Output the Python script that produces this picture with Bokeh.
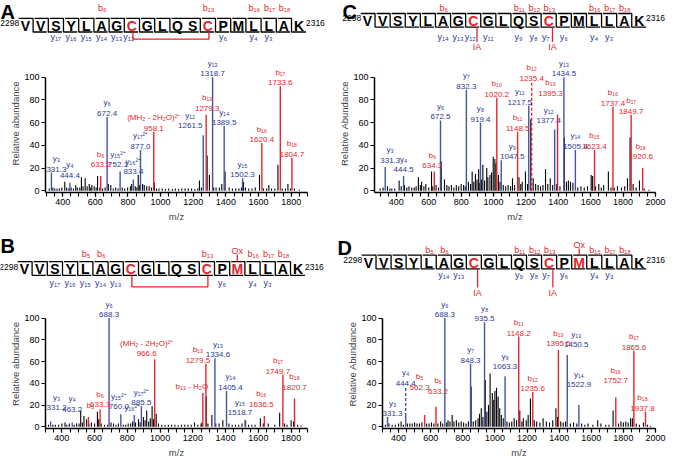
from bokeh.plotting import figure
from bokeh.models import Range1d, FixedTicker, ColumnDataSource
from bokeh.layouts import row, column
from bokeh.embed import file_html
from bokeh.resources import INLINE
from bokeh.core.properties import value

RED = "#e3262d"
NAVY = "#2b3990"
BLUE = "#4454a4"
FONT = "Liberation Sans"

SEQ = list("VVSYLAGCGLQSCPMLLAK")
SEQ_START, SEQ_END = 2298, 2316
SUB = str.maketrans("0123456789", "₀₁₂₃₄₅₆₇₈₉")

# ---------------- Panel A ----------------
A_seq_b = [6, 13, 16, 17, 18]
A_seq_y = [17, 16, 15, 14, 13, 12, 6, 4, 3]
A_ion_name = ["y₃", "y₄", "b₆", "y₆", "y₁₅²⁺", "y₁₆²⁺", "y₁₇²⁺", "(MH₂ - 2H₂O)²⁺",
              "y₁₂", "b₁₃", "y₁₃", "y₁₄", "y₁₅", "b₁₆", "b₁₇", "b₁₈"]
A_ion_mz = [331.3, 444.4, 633.2, 672.4, 752.1, 833.4, 877.0, 958.1,
            1261.5, 1279.3, 1318.7, 1389.5, 1502.3, 1620.4, 1733.6, 1804.7]
A_ion_int = [16, 7, 13, 65, 17, 10, 36, 52, 49, 67, 100, 57, 11, 42, 92, 29]
A_ion_type = ["y", "y", "b", "y", "y", "y", "y", "b", "y", "b", "y", "y", "y", "b", "b", "b"]
A_bg = [(318, 2), (340, 3), (352, 2), (366, 2), (380, 2), (395, 3), (413, 8), (425, 3), (438, 2),
        (452, 3), (466, 2), (480, 5), (490, 3), (505, 3), (515, 12), (525, 4), (538, 11), (550, 4),
        (563, 6), (572, 3), (579, 5), (593, 4), (605, 3), (614, 13), (628, 3), (645, 2), (660, 3),
        (680, 6), (695, 5), (710, 2), (725, 3), (740, 2), (765, 3), (780, 2), (798, 3), (815, 4),
        (823, 6), (845, 4), (855, 3), (863, 14), (872, 5), (890, 6), (900, 5), (915, 4), (930, 4),
        (945, 3), (962, 7), (975, 2), (990, 2), (1010, 2), (1030, 1.5), (1050, 2), (1072, 1.5),
        (1090, 2), (1110, 1.5), (1130, 2), (1150, 2), (1170, 2), (1190, 2), (1210, 1.5), (1228, 2),
        (1238, 9), (1250, 3), (1285, 31), (1299, 14), (1325, 3), (1340, 3), (1360, 3), (1375, 6),
        (1395, 17), (1420, 3), (1440, 2), (1460, 2), (1480, 2), (1495, 3), (1508, 8), (1520, 3),
        (1540, 2), (1560, 2), (1580, 3), (1606, 14), (1630, 2), (1650, 2), (1663, 5), (1680, 2),
        (1700, 2), (1719, 23), (1745, 2), (1765, 2), (1780, 6), (1795, 2), (1820, 2), (1850, 1)]

# ---------------- Panel B ----------------
B_seq_b = [5, 6, 13, 16, 17, 18]
B_seq_y = [17, 16, 15, 14, 13, 6, 4, 3]
B_ion_name = ["y₃", "y₄", "b₅", "b₆", "y₆", "y₁₅²⁺", "y₁₆²⁺", "y₁₇²⁺", "(MH₂ - 2H₂O)²⁺",
              "b₁₃ - H₂O", "b₁₃", "y₁₃", "y₁₄", "y₁₅", "b₁₆", "b₁₇", "b₁₈"]
B_ion_mz = [331.2, 463.2, 562.3, 633.3, 688.3, 760.0, 842.0, 885.5, 966.6,
            1261.0, 1279.5, 1334.6, 1405.4, 1518.7, 1636.5, 1749.7, 1820.7]
B_ion_int = [5, 4, 9, 16, 100, 11.5, 11, 19, 62, 31, 58, 63, 33, 6, 10, 48, 26]
B_ion_type = ["y", "y", "b", "b", "y", "y", "y", "y", "b", "b", "b", "y", "y", "y", "b", "b", "b"]
B_ion_nomz = ["b₅", "y₁₆²⁺", "b₁₃ - H₂O"]
B_bg = [(318, 2), (345, 2), (360, 2), (380, 2), (400, 3), (419, 4), (430, 2), (445, 3), (475, 2),
        (490, 3), (505, 3), (515, 15), (525, 4), (535, 10), (551, 7), (565, 3), (580, 4), (600, 3),
        (617, 14), (625, 7), (640, 3), (660, 2), (680, 2), (700, 4), (715, 3), (730, 2), (745, 3),
        (775, 2), (790, 2), (805, 3), (820, 3), (832, 5), (850, 4), (868, 7), (878, 4), (898, 9),
        (908, 6), (918, 15), (930, 5), (940, 8), (951, 19), (960, 7), (976, 12), (990, 3),
        (1010, 2), (1030, 2), (1050, 2), (1070, 2), (1090, 2), (1110, 1.5), (1130, 2), (1150, 2),
        (1170, 2), (1190, 2), (1210, 4), (1230, 2), (1250, 3), (1256, 4), (1282, 28), (1292, 3),
        (1316, 11), (1340, 3), (1360, 3), (1383, 6), (1420, 3), (1440, 2), (1460, 2), (1480, 2),
        (1500, 3), (1522, 6), (1540, 2), (1560, 2), (1580, 2), (1612, 8), (1630, 3), (1660, 3),
        (1700, 2), (1730, 13), (1760, 3), (1775, 2), (1800, 6), (1815, 5), (1840, 2), (1860, 1)]

# ---------------- Panel C ----------------
C_seq_b = [6, 11, 12, 13, 16, 17, 18]
C_seq_y = [14, 13, 12, 11, 9, 8, 7, 6, 4, 3]
C_ion_name = ["y₃", "y₄", "b₆", "y₆", "y₇", "y₈", "b₁₀", "y₉", "b₁₁", "y₁₁", "b₁₂",
              "y₁₂", "b₁₃", "y₁₃", "y₁₄", "b₁₅", "b₁₆", "b₁₇", "b₁₈"]
C_ion_mz = [331.3, 444.5, 634.3, 672.5, 832.3, 919.4, 1020.2, 1047.5, 1148.5, 1217.5, 1235.4,
            1377.4, 1395.3, 1434.5, 1505.4, 1623.4, 1737.4, 1849.7, 1920.6]
C_ion_int = [21, 13, 17, 62, 89, 60, 82, 27, 52, 75, 0, 54, 67, 100, 36, 36, 74, 67, 20]
C_ion_type = ["y", "y", "b", "y", "y", "y", "b", "y", "b", "y", "b", "y", "b", "y", "y", "b", "b", "b", "b"]
C_ion_dashed = {"b₁₂": 96}
C_bg = [(300, 2), (318, 3), (345, 4), (360, 2), (372, 2), (390, 2), (417, 9), (430, 4), (450, 5),
        (465, 3), (478, 4), (495, 3), (510, 3), (522, 4), (536, 12), (548, 5), (556, 8), (570, 4),
        (582, 6), (600, 3), (617, 17), (625, 4), (645, 5), (660, 3), (677, 26), (697, 10), (712, 5),
        (725, 4), (740, 5), (755, 3), (770, 5), (785, 4), (800, 6), (815, 5), (825, 4), (845, 8),
        (858, 6), (868, 17), (878, 8), (888, 15), (898, 10), (908, 19), (915, 7), (925, 10),
        (934, 23), (945, 9), (958, 20), (965, 12), (978, 14), (988, 16), (998, 30), (1008, 28),
        (1015, 24), (1030, 14), (1040, 8), (1060, 5), (1075, 4), (1090, 5), (1105, 4), (1117, 11),
        (1130, 5), (1157, 12), (1168, 6), (1177, 8), (1197, 17), (1210, 6), (1230, 63), (1245, 11),
        (1260, 6), (1275, 5), (1290, 4), (1305, 5), (1321, 19), (1335, 6), (1350, 11), (1365, 5),
        (1390, 6), (1410, 4), (1437, 47), (1450, 8), (1462, 9), (1475, 8), (1490, 7), (1520, 3),
        (1540, 4), (1560, 3), (1580, 4), (1603, 14), (1612, 13), (1630, 4), (1650, 6), (1665, 3),
        (1680, 5), (1709, 17), (1725, 3), (1745, 3), (1765, 4), (1790, 3), (1810, 4), (1827, 11),
        (1843, 47), (1862, 6), (1880, 3), (1901, 9), (1930, 2), (1960, 1)]

# ---------------- Panel D ----------------
D_seq_b = [5, 6, 11, 12, 13, 16, 17, 18]
D_seq_y = [14, 13, 9, 8, 7, 6, 4, 3]
D_ion_name = ["y₃", "y₄", "b₅", "b₆", "y₆", "y₇", "y₈", "y₉", "b₁₁", "b₁₂", "b₁₃", "y₁₃",
              "y₁₄", "b₁₆", "b₁₇", "b₁₈"]
D_ion_mz = [331.3, 444.4, 562.3, 633.2, 688.3, 848.3, 935.5, 1063.3, 1148.2, 1235.6, 1395.5,
            1450.5, 1522.9, 1752.7, 1865.6, 1937.8]
D_ion_int = [9, 10, 11, 18.5, 100, 58, 96, 46.5, 83, 32, 70.6, 66, 20, 27, 70, 14]
D_ion_type = ["y", "y", "b", "b", "y", "y", "y", "y", "b", "b", "b", "y", "y", "b", "b", "b"]
D_ion_dashed = {"y₄": 37}
D_bg = [(318, 2), (340, 3), (360, 2), (380, 2), (400, 3), (416, 5), (430, 2), (455, 3), (470, 3),
        (485, 3), (500, 4), (515, 3), (530, 3), (545, 4), (575, 3), (590, 3), (605, 4), (620, 3),
        (645, 3), (662, 5), (675, 3), (700, 4), (708, 6), (720, 5), (734, 11), (745, 5), (760, 6),
        (775, 4), (790, 5), (805, 4), (820, 3), (835, 5), (852, 37), (865, 5), (880, 6), (895, 8),
        (904, 12), (915, 17), (925, 9), (940, 43), (950, 14), (960, 20), (970, 49), (984, 31),
        (993, 25), (1000, 33), (1010, 36), (1020, 28), (1030, 17), (1040, 11), (1052, 8), (1075, 5),
        (1090, 4), (1105, 5), (1120, 8), (1135, 6), (1155, 15), (1168, 5), (1177, 8), (1195, 6),
        (1207, 11), (1221, 26), (1245, 6), (1260, 5), (1280, 4), (1300, 8), (1320, 5), (1340, 4),
        (1360, 6), (1380, 17), (1390, 9), (1410, 5), (1425, 4), (1440, 5), (1470, 3), (1490, 4),
        (1510, 3), (1540, 3), (1560, 2), (1580, 3), (1610, 2), (1640, 6), (1660, 3), (1690, 2),
        (1710, 2), (1736, 15), (1770, 3), (1785, 5), (1800, 4), (1815, 5), (1830, 4), (1845, 8),
        (1856, 8), (1880, 3), (1900, 2), (1925, 4), (1950, 2), (1970, 1)]

# label nudges (screen px): (dx, extra lift)
A_lbl_off = {"y₃": (5, 0), "y₄": (0, 4), "b₆": (0, 8), "y₁₅²⁺": (-2, 3), "y₁₆²⁺": (0, 4),
             "y₁₂": (-13, 6), "b₁₃": (1, 3)}
B_lbl_off = {"y₃": (6, 10), "y₄": (0, 10), "b₅": (2, 6), "b₆": (0, 1), "y₁₅²⁺": (-2, 4),
             "y₁₆²⁺": (-2, 2), "(MH₂ - 2H₂O)²⁺": (-8, 2), "b₁₃ - H₂O": (-11, 1), "b₁₃": (-8, 0),
             "y₁₃": (3, 0), "y₁₄": (4, 0), "y₁₅": (-5, 4), "b₁₆": (-3, 8), "b₁₇": (-5, 0), "b₁₈": (0, 8)}
C_lbl_off = {"y₃": (5, 3), "y₄": (0, 3), "b₆": (-2, 2), "y₉": (11, 0), "y₁₁": (-9, 0),
             "y₁₂": (-6, 5), "b₁₃": (-7, 18), "b₁₈": (-2, 8)}
D_lbl_off = {"y₃": (5, 0), "b₅": (-5, 24), "b₆": (2, 12), "y₉": (0, 6), "b₁₃": (0, 3),
             "y₁₃": (9, 7), "y₁₄": (0, 17), "b₁₆": (0, 13), "b₁₈": (-3, 0)}


def make_header(w, h, letter, lpos, x0, s, row_y, b_y, y_y, b_list, y_list, red_res, skip,
                dis_y=None, ia_y=None, ox_y=None):
    p = figure(width=w, height=h, x_range=Range1d(0, w), y_range=Range1d(h, 0),
               output_backend="svg", toolbar_location=None, x_axis_type=None, y_axis_type=None,
               min_border=0, frame_align=False)
    p.outline_line_color = None
    p.grid.visible = False
    p.text(x=[lpos[0]], y=[lpos[1]], text=[letter], text_font=value(FONT), text_font_style="bold",
           text_font_size=value("20px"), text_baseline="top", text_align="left", text_color="black")
    n = len(SEQ)
    cx = [x0 + i * s for i in range(n)]
    half = 6.8
    top, bot = row_y - half, row_y + half
    J = [j for j in range(n - 1) if j not in skip]
    gap = 0.1 * s
    xs, ys = [], []
    for k, j in enumerate(J):
        xj = cx[j] + s / 2
        left = cx[J[k - 1]] + s / 2 + gap if k > 0 else cx[0] - 0.45 * s
        right = cx[J[k + 1]] + s / 2 - gap if k < len(J) - 1 else cx[-1] + 0.45 * s
        xs.append([left, xj, xj, right])
        ys.append([top, top, bot, bot])
    p.multi_line(xs, ys, line_color="black", line_width=1.3)
    colors = [RED if i in red_res else "black" for i in range(n)]
    p.text(x=cx, y=[row_y + 0.5] * n, text=SEQ, text_color=colors, text_font=value(FONT),
           text_font_style="bold", text_font_size=value("14px"), text_align="center",
           text_baseline="middle")
    p.text(x=[cx[0] - 0.42 * s], y=[row_y - 2], text=[str(SEQ_START)], text_font=value(FONT),
           text_font_size=value("8.5px"), text_align="right", text_baseline="middle")
    p.text(x=[cx[-1] + 0.45 * s], y=[row_y - 2], text=[str(SEQ_END)], text_font=value(FONT),
           text_font_size=value("8.5px"), text_align="left", text_baseline="middle")
    p.text(x=[cx[k - 1] + 0.05 * s for k in b_list], y=[b_y] * len(b_list),
           text=["b" + str(k).translate(SUB) for k in b_list], text_color=RED, text_font=value(FONT),
           text_font_size=value("9px"), text_align="center", text_baseline="middle")
    shift_c = dis_y is not None or ia_y is not None
    yx = [cx[n - k] - (0.2 * s if (SEQ[n - k] == "C" and shift_c) else 0) for k in y_list]
    p.text(x=yx, y=[y_y] * len(y_list), text=["y" + str(k).translate(SUB) for k in y_list],
           text_color=NAVY, text_font=value(FONT), text_font_size=value("9px"),
           text_align="center", text_baseline="middle")
    if dis_y is not None:
        a, b = cx[7] + 1, cx[12] + 1
        p.line(x=[a, a, b, b], y=[bot + 0.5, dis_y, dis_y, bot + 0.5], line_color=RED, line_width=1.3)
    if ia_y is not None:
        for c in (7, 12):
            xx = cx[c] + 0.25 * s
            p.segment(x0=[xx], y0=[bot], x1=[xx], y1=[ia_y - 5], line_color=RED, line_width=1.3)
            p.text(x=[xx], y=[ia_y], text=["IA"], text_color=RED, text_font=value(FONT),
                   text_font_size=value("9px"), text_align="center", text_baseline="middle")
    if ox_y is not None:
        p.segment(x0=[cx[14]], y0=[top], x1=[cx[14]], y1=[ox_y + 4], line_color=RED, line_width=1.3)
        p.text(x=[cx[14]], y=[ox_y], text=["Ox"], text_color=RED, text_font=value(FONT),
               text_font_size=value("9px"), text_align="center", text_baseline="middle")
    return p


def make_spectrum(w, h, xr, yend, borders, bg, names, mzs, ints, types, offs, ylabel, major,
                  nomz=(), dashed=None):
    dashed = dashed or {}
    p = figure(width=w, height=h, x_range=Range1d(*xr), y_range=Range1d(-1.5, yend),
               output_backend="svg", toolbar_location=None, frame_align=False,
               min_border_left=borders[0], min_border_right=borders[1],
               min_border_top=borders[2], min_border_bottom=borders[3])
    p.outline_line_color = None
    p.grid.visible = False
    bgx = [m for m, _ in bg]
    bgy = [v for _, v in bg]
    p.segment(x0=bgx, y0=[0] * len(bgx), x1=bgx, y1=bgy, line_color="black", line_width=1.1)
    lc = [RED if t == "b" else BLUE for t in types]
    tc = [RED if t == "b" else NAVY for t in types]
    p.segment(x0=mzs, y0=[0] * len(mzs), x1=mzs, y1=ints, line_color=lc, line_width=1.4)
    for nm, topv in dashed.items():
        i = names.index(nm)
        p.segment(x0=[mzs[i]], y0=[ints[i]], x1=[mzs[i]], y1=[topv], line_color=lc[i],
                  line_width=1.4, line_dash="3 2")
    tops = [dashed.get(nm, v) for nm, v in zip(names, ints)]
    mzt = ["" if nm in nomz else f"{m:.1f}" for nm, m in zip(names, mzs)]
    dx = [offs.get(nm, (0, 0))[0] for nm in names]
    dym = [-(1 + offs.get(nm, (0, 0))[1]) for nm in names]
    dyn = [dym[i] - (0 if names[i] in nomz else 8.5) for i in range(len(names))]
    src = ColumnDataSource(dict(x=mzs, y=tops, mzt=mzt, nm=names, dx=dx, dym=dym, dyn=dyn, c=tc))
    for col, off in (("mzt", "dym"), ("nm", "dyn")):
        p.text(x="x", y="y", text=col, x_offset="dx", y_offset=off, text_color="c",
               text_font=value(FONT), text_font_size=value("8px"), text_align="center",
               text_baseline="bottom", source=src)
    p.xaxis.ticker = FixedTicker(ticks=major, minor_ticks=list(range(300, xr[1] + 1, 50)))
    p.yaxis.ticker = FixedTicker(ticks=[0, 20, 40, 60, 80, 100])
    p.yaxis.bounds = (-1.5, 100)
    p.xaxis.axis_label = "m/z"
    p.yaxis.axis_label = ylabel
    for ax in (p.xaxis[0], p.yaxis[0]):
        ax.axis_line_width = 1.5
        ax.axis_line_color = "black"
        ax.major_tick_line_width = 1.2
        ax.major_tick_out = 4
        ax.major_tick_in = 0
        ax.minor_tick_line_width = 1.1
        ax.minor_tick_out = 4
        ax.minor_tick_in = 0
        ax.major_label_text_font = FONT
        ax.major_label_text_font_size = "9px"
        ax.major_label_text_color = "black"
        ax.major_label_standoff = 2
        ax.axis_label_text_font = FONT
        ax.axis_label_text_font_size = "9.5px"
        ax.axis_label_text_font_style = "normal"
        ax.axis_label_standoff = 3
    p.yaxis[0].axis_label_standoff = 0
    return p


majAB = [400, 600, 800, 1000, 1200, 1400, 1600, 1800]
majCD = [400, 600, 800, 1000, 1200, 1400, 1600, 1800, 2000]

hA = make_header(332, 52, "A", (0, 0), 25, 15.2, 24.7, 7.5, 36.7, A_seq_b, A_seq_y, [7, 12], [10],
                 dis_y=38.7)
sA = make_spectrum(332, 172, (295, 1900), 120, (45, 25, 2, 30), A_bg, A_ion_name, A_ion_mz,
                   A_ion_int, A_ion_type, A_lbl_off, "Relative abundance", majAB)

hC = make_header(335, 52, "C", (10, 0), 35, 15.1, 19.8, 7.7, 36, C_seq_b, C_seq_y, [7, 12], [],
                 ia_y=46.5)
sC = make_spectrum(335, 172, (265, 2000), 120, (42, 12, 2, 30), C_bg, C_ion_name, C_ion_mz,
                   C_ion_int, C_ion_type, C_lbl_off, "Relative Abundance", majCD,
                   dashed=C_ion_dashed)

hB = make_header(332, 73, "B", (0, 10), 24, 15.2, 44, 29.7, 58, B_seq_b, B_seq_y, [7, 12, 14], [10],
                 dis_y=62.3, ox_y=26)
sB = make_spectrum(332, 163, (300, 1900), 117, (45, 25, 2, 27), B_bg, B_ion_name, B_ion_mz,
                   B_ion_int, B_ion_type, B_lbl_off, "Relative abundance", majAB, nomz=B_ion_nomz)

hD = make_header(335, 73, "D", (5, 12), 36, 15.05, 37.5, 25, 50, D_seq_b, D_seq_y, [7, 12, 14], [],
                 ia_y=68, ox_y=20)
sD = make_spectrum(335, 163, (300, 2000), 117, (50, 12, 2, 27), D_bg, D_ion_name, D_ion_mz,
                   D_ion_int, D_ion_type, D_lbl_off, "Relative Abundance", majCD,
                   dashed=D_ion_dashed)

layout = column(row(column(hA, sA), column(hC, sC)), row(column(hB, sB), column(hD, sD)))
open("out.html", "w").write(file_html(layout, INLINE))
